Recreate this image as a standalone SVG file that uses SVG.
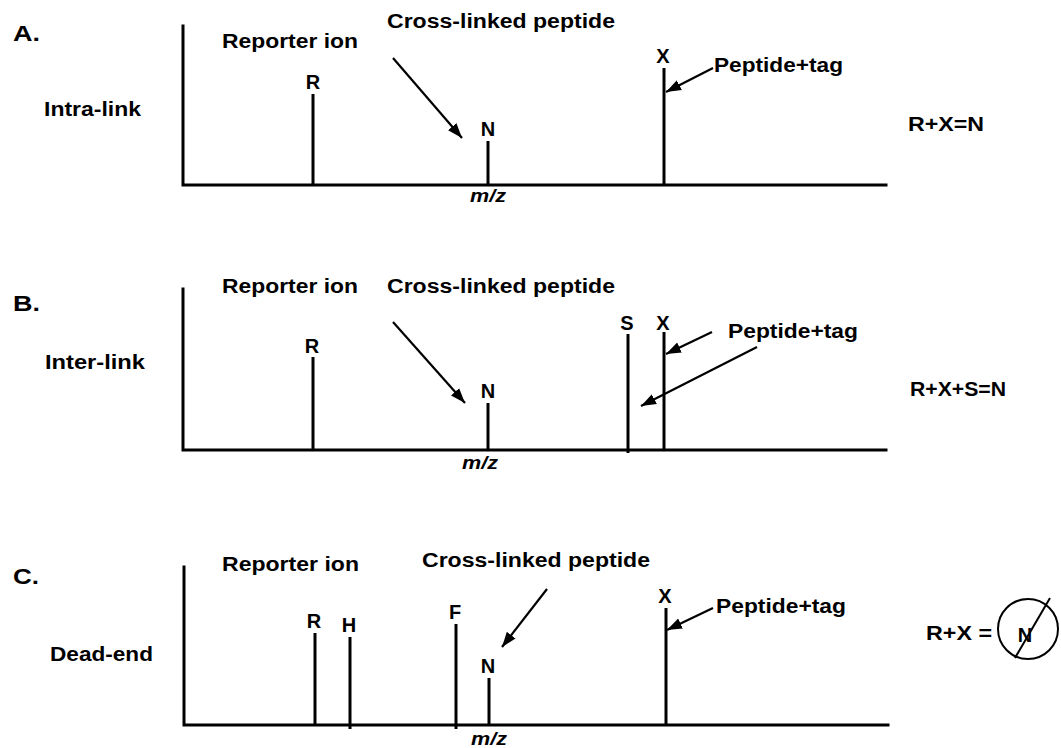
<svg xmlns="http://www.w3.org/2000/svg" width="1061" height="748" viewBox="0 0 1061 748">
<style>
text{font-family:"Liberation Sans",Arial,Helvetica,sans-serif;font-weight:bold;fill:#000}
.pl{font-size:22px}
.t{font-size:19.5px}
.lb{font-size:20px;text-anchor:middle}
.mz{font-size:18px;font-style:italic}
.ax{stroke:#000;stroke-width:3;fill:none;stroke-linecap:square}
.pk{stroke:#000;stroke-width:3;fill:none}
.ar{stroke:#000;stroke-width:2.2;fill:none;marker-end:url(#ah)}
.thin{stroke:#000;stroke-width:2;fill:none}
</style>
<defs>
<marker id="ah" markerUnits="userSpaceOnUse" markerWidth="16" markerHeight="12" refX="15" refY="6" orient="auto">
<path d="M0,0.5 L15,6 L0,11.5 z" fill="#000"/>
</marker>
</defs>
<rect width="1061" height="748" fill="#fff"/>

<!-- Panel A -->
<g id="panelA">
<text class="pl" x="13" y="41" textLength="27" lengthAdjust="spacingAndGlyphs">A.</text>
<text class="t" x="44" y="116" textLength="97" lengthAdjust="spacingAndGlyphs">Intra-link</text>
<g id="axesA"><path class="ax" d="M183,26 V185 H886"/></g>
<text class="mz" x="470" y="202" textLength="36" lengthAdjust="spacingAndGlyphs">m/z</text>
<text id="A-reporter" class="t" x="222" y="48" textLength="136" lengthAdjust="spacingAndGlyphs">Reporter ion</text>
<text id="A-cross" class="t" x="387" y="28" textLength="228" lengthAdjust="spacingAndGlyphs">Cross-linked peptide</text>
<text id="A-pep" class="t" x="714" y="72" textLength="129" lengthAdjust="spacingAndGlyphs">Peptide+tag</text>
<text id="A-eq" class="t" x="908" y="131" textLength="76" lengthAdjust="spacingAndGlyphs">R+X=N</text>
<g id="A-R"><line class="pk" x1="313" y1="94" x2="313" y2="185"/><text class="lb" x="313" y="89">R</text></g>
<g id="A-N"><line class="pk" x1="488" y1="141" x2="488" y2="185"/><text class="lb" x="488" y="136">N</text></g>
<g id="A-X"><line class="pk" x1="664" y1="68" x2="664" y2="185"/><text class="lb" x="663" y="63">X</text></g>
</g>

<!-- Panel B -->
<g id="panelB">
<text class="pl" x="13" y="311" textLength="27" lengthAdjust="spacingAndGlyphs">B.</text>
<text class="t" x="45" y="369" textLength="100" lengthAdjust="spacingAndGlyphs">Inter-link</text>
<g id="axesB"><path class="ax" d="M183,289 V450 H886"/></g>
<text class="mz" x="462" y="469" textLength="36" lengthAdjust="spacingAndGlyphs">m/z</text>
<text id="B-reporter" class="t" x="222" y="293" textLength="136" lengthAdjust="spacingAndGlyphs">Reporter ion</text>
<text id="B-cross" class="t" x="387" y="293" textLength="228" lengthAdjust="spacingAndGlyphs">Cross-linked peptide</text>
<text id="B-pep" class="t" x="728" y="338" textLength="130" lengthAdjust="spacingAndGlyphs">Peptide+tag</text>
<text id="B-eq" class="t" x="910" y="396" textLength="96" lengthAdjust="spacingAndGlyphs">R+X+S=N</text>
<g id="B-R"><line class="pk" x1="313" y1="357" x2="313" y2="450"/><text class="lb" x="312" y="353">R</text></g>
<g id="B-N"><line class="pk" x1="488" y1="403" x2="488" y2="450"/><text class="lb" x="488" y="398">N</text></g>
<g id="B-S"><line class="pk" x1="628" y1="334" x2="628" y2="453"/><text class="lb" x="627" y="330">S</text></g>
<g id="B-X"><line class="pk" x1="664" y1="332" x2="664" y2="450"/><text class="lb" x="663" y="330">X</text></g>
</g>

<!-- Panel C -->
<g id="panelC">
<text class="pl" x="13" y="584" textLength="26" lengthAdjust="spacingAndGlyphs">C.</text>
<text class="t" x="50" y="661" textLength="103" lengthAdjust="spacingAndGlyphs">Dead-end</text>
<g id="axesC"><path class="ax" d="M184,567 V725 H888"/></g>
<text class="mz" x="471" y="745" textLength="36" lengthAdjust="spacingAndGlyphs">m/z</text>
<text id="C-reporter" class="t" x="222" y="571" textLength="137" lengthAdjust="spacingAndGlyphs">Reporter ion</text>
<text id="C-cross" class="t" x="422" y="567" textLength="228" lengthAdjust="spacingAndGlyphs">Cross-linked peptide</text>
<text id="C-pep" class="t" x="716" y="613" textLength="130" lengthAdjust="spacingAndGlyphs">Peptide+tag</text>
<g id="C-R"><line class="pk" x1="315" y1="633" x2="315" y2="725"/><text class="lb" x="314" y="628">R</text></g>
<g id="C-H"><line class="pk" x1="350" y1="637" x2="350" y2="729"/><text class="lb" x="349" y="632">H</text></g>
<g id="C-F"><line class="pk" x1="456" y1="624" x2="456" y2="729"/><text class="lb" x="455" y="619">F</text></g>
<g id="C-N"><line class="pk" x1="489" y1="678" x2="489" y2="725"/><text class="lb" x="488" y="673">N</text></g>
<g id="C-X"><line class="pk" x1="666" y1="608" x2="666" y2="725"/><text class="lb" x="665" y="603">X</text></g>
<g id="C-eq">
<text class="t" x="926" y="640" textLength="66" lengthAdjust="spacingAndGlyphs">R+X =</text>
<circle class="thin" cx="1028" cy="629" r="30"/>
<text class="lb" x="1025" y="642">N</text>
<line class="thin" x1="1050" y1="598" x2="1015" y2="658"/>
</g>
</g>

<!-- Connectors -->
<g id="connectors">
<line class="ar" x1="393" y1="58" x2="462" y2="138"/>
<line class="ar" x1="713" y1="68" x2="666" y2="92"/>
<line class="ar" x1="393" y1="322" x2="465" y2="403"/>
<line class="ar" x1="712" y1="332" x2="666" y2="354"/>
<line class="ar" x1="757" y1="347" x2="641" y2="406"/>
<line class="ar" x1="547" y1="589" x2="502" y2="647"/>
<line class="ar" x1="713" y1="608" x2="667" y2="630"/>
</g>
</svg>
